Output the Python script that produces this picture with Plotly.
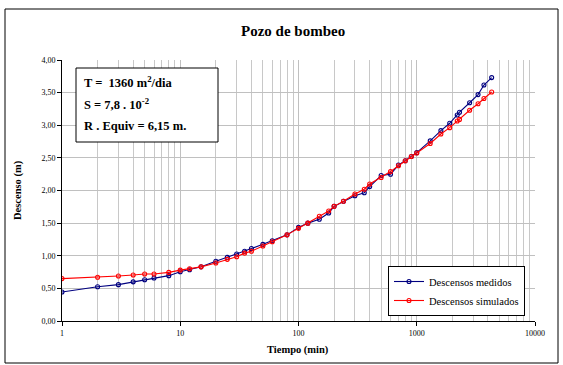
import plotly.graph_objects as go

tiempo = [1, 2, 3, 4, 5, 6, 8, 10, 12, 15, 20, 25, 30, 35, 40, 50, 60, 80, 100, 120, 150, 180,
          200, 240, 300, 360, 400, 500, 600, 700, 800, 900, 1000, 1300, 1600, 1900, 2200, 2300,
          2800, 3300, 3700, 4300]
medidos = [0.445, 0.525, 0.557, 0.60, 0.633, 0.66, 0.695, 0.755, 0.785, 0.83, 0.915, 0.975, 1.027,
           1.07, 1.11, 1.175, 1.23, 1.32, 1.435, 1.50, 1.56, 1.655, 1.757, 1.835, 1.92, 1.966, 2.06,
           2.23, 2.25, 2.39, 2.457, 2.52, 2.58, 2.76, 2.917, 3.03, 3.157, 3.20, 3.345, 3.47, 3.617,
           3.73]
simulados = [0.65, 0.67, 0.69, 0.705, 0.72, 0.72, 0.745, 0.78, 0.80, 0.83, 0.89, 0.945, 0.985,
             1.04, 1.07, 1.15, 1.215, 1.32, 1.42, 1.50, 1.605, 1.686, 1.757, 1.835, 1.946, 2.02,
             2.10, 2.20, 2.29, 2.38, 2.457, 2.52, 2.575, 2.72, 2.866, 2.963, 3.065, 3.09, 3.23,
             3.33, 3.41, 3.51]

y_ticks = [0, 0.5, 1.0, 1.5, 2.0, 2.5, 3.0, 3.5, 4.0]
y_ticktext = ["0,00", "0,50", "1,00", "1,50", "2,00", "2,50", "3,00", "3,50", "4,00"]
x_ticks = [1, 10, 100, 1000, 10000]
x_ticktext = ["1", "10", "100", "1000", "10000"]
x_minor = [m * d for d in (1, 10, 100, 1000) for m in range(2, 10)]

FONT = "Liberation Serif"
W, H = 563, 365
L, R, T, B = 62, 535, 60, 321

def px(xp):
    return (xp - L) / (R - L)

def py(yp):
    return (B - yp) / (B - T)

fig = go.Figure()
fig.add_trace(go.Scatter(
    x=tiempo, y=medidos, name="Descensos medidos", mode="lines+markers",
    line=dict(color="#000080", width=1.1),
    marker=dict(symbol="circle-open", size=4, color="#000080", line=dict(width=1.1)),
))
fig.add_trace(go.Scatter(
    x=tiempo, y=simulados, name="Descensos simulados", mode="lines+markers",
    line=dict(color="#ff0000", width=1.1),
    marker=dict(symbol="circle-open", size=4, color="#ff0000", line=dict(width=1.1)),
))

fig.update_layout(
    width=W, height=H,
    margin=dict(l=L, r=W - R, t=T, b=H - B, pad=0),
    paper_bgcolor="white", plot_bgcolor="white",
    font=dict(family=FONT, color="black", size=8),
    showlegend=True,
    legend=dict(
        x=px(388), y=py(266), xanchor="left", yanchor="top",
        bgcolor="white", bordercolor="black", borderwidth=1,
        font=dict(family=FONT, size=10.5, color="black"),
        itemwidth=30, tracegroupgap=0,
    ),
    xaxis=dict(
        type="log", range=[0, 4],
        tickmode="array", tickvals=x_ticks, ticktext=x_ticktext,
        showgrid=True, gridcolor="#c0c0c0", gridwidth=1,
        minor=dict(tickmode="array", tickvals=x_minor, showgrid=True,
                   gridcolor="#c8c8c8", gridwidth=1, ticks=""),
        ticks="outside", ticklen=4, tickcolor="black", tickwidth=1,
        showline=True, linecolor="black", linewidth=1,
        tickfont=dict(family=FONT, size=8),
        zeroline=False,
    ),
    yaxis=dict(
        range=[0, 4],
        tickmode="array", tickvals=y_ticks, ticktext=y_ticktext,
        showgrid=True, gridcolor="#c0c0c0", gridwidth=1,
        ticks="outside", ticklen=4, tickcolor="black", tickwidth=1,
        showline=True, linecolor="black", linewidth=1,
        tickfont=dict(family=FONT, size=8),
        zeroline=False,
    ),
)

# outer chart border
fig.add_shape(type="rect", xref="paper", yref="paper",
              x0=px(5), x1=px(558), y0=py(363), y1=py(9),
              line=dict(color="black", width=1), fillcolor="rgba(0,0,0,0)", layer="above")

def label(text, xp, yp, size, angle=0, xanchor="center"):
    fig.add_annotation(text=text, xref="paper", yref="paper",
                       x=px(xp), y=py(yp), xanchor=xanchor, yanchor="middle",
                       showarrow=False, textangle=angle,
                       font=dict(family=FONT, size=size, color="black"))

label("<b>Pozo de bombeo</b>", 293, 31, 15)
label("<b>Tiempo (min)</b>", 298, 350, 10.5)
label("<b>Descenso (m)</b>", 18, 190, 10.5, angle=-90)

# parameter text box
fig.add_shape(type="rect", xref="paper", yref="paper",
              x0=px(76), x1=px(218), y0=py(142), y1=py(68),
              line=dict(color="black", width=1), fillcolor="white", layer="above")
box_lines = ["<b>T =  1360 m<sup>2</sup>/dia</b>",
             "<b>S = 7,8 . 10<sup>-2</sup></b>",
             "<b>R . Equiv = 6,15 m.</b>"]
for txt, yp in zip(box_lines, [82, 104, 126]):
    label(txt, 82, yp, 12.5, xanchor="left")

fig.write_html("out.html")
